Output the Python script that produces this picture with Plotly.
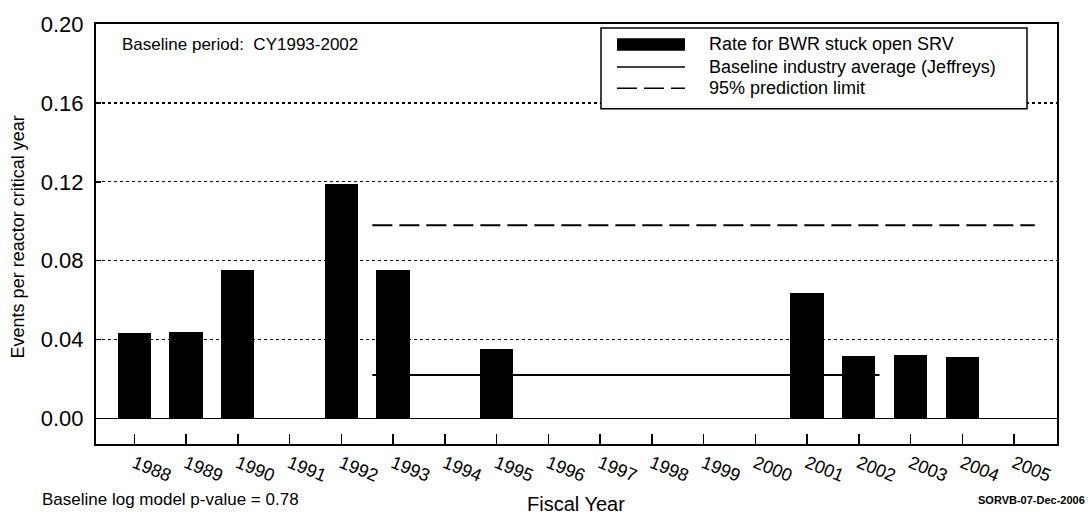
import plotly.graph_objects as go

# ---- data ----
years = [1988, 1989, 1990, 1991, 1992, 1993, 1994, 1995, 1996, 1997,
         1998, 1999, 2000, 2001, 2002, 2003, 2004, 2005]
rates = [0.0432, 0.0440, 0.0755, 0.0, 0.1187, 0.0752, 0.0, 0.0351, 0.0, 0.0,
         0.0, 0.0, 0.0, 0.0635, 0.0315, 0.0320, 0.0310, 0.0]
baseline_x = [1992.6, 2002.4]
baseline_y = [0.022, 0.022]
limit_x = [1992.6, 2005.4]
limit_y = [0.098, 0.098]
ytick_vals = [0.00, 0.04, 0.08, 0.12, 0.16, 0.20]
ytick_text = ["0.00", "0.04", "0.08", "0.12", "0.16", "0.20"]
xtick_text = [str(y) for y in years]
legend_labels = ["Rate for BWR stuck open SRV",
                 "Baseline industry average (Jeffreys)",
                 "95% prediction limit"]

# ---- layout geometry (page pixels) ----
W, H = 1092, 522
L, R, T, B = 96, 1057, 13, 444
FONT = "Liberation Sans, Arial, sans-serif"


def px(x):
    return (x - L) / (R - L)


def py(y):
    return (B - y) / (B - T)


fig = go.Figure()
fig.add_trace(go.Scatter(x=baseline_x, y=baseline_y, mode="lines",
                         line=dict(color="black", width=2),
                         showlegend=False, hoverinfo="skip"))
fig.add_trace(go.Scatter(x=limit_x, y=limit_y, mode="lines",
                         line=dict(color="black", width=2, dash="20px,7px"),
                         showlegend=False, hoverinfo="skip"))
fig.add_trace(go.Bar(x=years, y=rates, width=0.64,
                     marker=dict(color="black", line=dict(width=0)),
                     showlegend=False))

shapes = []
annotations = []

# custom legend box
shapes.append(dict(type="rect", xref="paper", yref="paper",
                   x0=px(601), x1=px(1027), y0=py(100), y1=py(17),
                   fillcolor="white", line=dict(color="black", width=1.5),
                   layer="above"))
rows = [34, 57, 79]
shapes.append(dict(type="rect", xref="paper", yref="paper",
                   x0=px(617), x1=px(685), y0=py(rows[0] + 6.5), y1=py(rows[0] - 6.5),
                   fillcolor="black", line=dict(width=0), layer="above"))
shapes.append(dict(type="line", xref="paper", yref="paper",
                   x0=px(617), x1=px(685), y0=py(rows[1]), y1=py(rows[1]),
                   line=dict(color="black", width=1.5), layer="above"))
shapes.append(dict(type="line", xref="paper", yref="paper",
                   x0=px(617), x1=px(685), y0=py(rows[2]), y1=py(rows[2]),
                   line=dict(color="black", width=1.5, dash="20px,7px"), layer="above"))
for lab, r in zip(legend_labels, rows):
    annotations.append(dict(text=lab, xref="paper", yref="paper",
                            x=px(707), y=py(r), xanchor="left", yanchor="middle",
                            showarrow=False, font=dict(size=18, color="black", family=FONT)))

annotations.append(dict(text="Baseline period:  CY1993-2002", xref="paper", yref="paper",
                        x=px(120), y=py(34), xanchor="left", yanchor="middle",
                        showarrow=False, font=dict(size=17, color="black", family=FONT)))
annotations.append(dict(text="Events per reactor critical year", xref="paper", yref="paper",
                        x=px(18), y=py(232), xanchor="center", yanchor="middle",
                        textangle=-90, showarrow=False,
                        font=dict(size=18, color="black", family=FONT)))
annotations.append(dict(text="Fiscal Year", xref="paper", yref="paper",
                        x=px(576), y=py(506), xanchor="center", yanchor="middle",
                        showarrow=False, font=dict(size=20, color="black", family=FONT)))
annotations.append(dict(text="Baseline log model p-value = 0.78", xref="paper", yref="paper",
                        x=px(40), y=py(501), xanchor="left", yanchor="middle",
                        showarrow=False, font=dict(size=17, color="black", family=FONT)))
annotations.append(dict(text="<b>SORVB-07-Dec-2006</b>", xref="paper", yref="paper",
                        x=px(1087), y=py(501), xanchor="right", yanchor="middle",
                        showarrow=False, font=dict(size=11, color="black", family=FONT)))

fig.update_layout(
    width=W, height=H,
    margin=dict(l=L, r=W - R, t=T, b=H - B, pad=0),
    paper_bgcolor="white", plot_bgcolor="white",
    font=dict(family=FONT, color="black"),
    shapes=shapes, annotations=annotations,
    showlegend=False, bargap=0, hovermode=False,
    xaxis=dict(range=[1987.26, 2005.83], tickmode="array", tickvals=years,
               ticktext=xtick_text, tickangle=22, tickfont=dict(size=18),
               ticks="inside", ticklen=10, tickwidth=1.5, tickcolor="black",
               showline=True, mirror=True, linecolor="black", linewidth=2,
               showgrid=False, zeroline=False, fixedrange=True),
    yaxis=dict(range=[-0.013, 0.2001], tickmode="array", tickvals=ytick_vals,
               ticktext=ytick_text, tickfont=dict(size=22),
               ticks="inside", ticklen=5, tickwidth=1.5, tickcolor="black",
               showline=True, mirror=True, linecolor="black", linewidth=2,
               showgrid=True, gridcolor="black", gridwidth=1.2, griddash="dot",
               zeroline=True, zerolinecolor="black", zerolinewidth=1.5,
               ticklabelstandoff=6, ticklabeloverflow="allow", fixedrange=True),
)

fig.write_html("out.html", config={"displayModeBar": False, "staticPlot": True},
               post_script="document.body.style.margin='0px';document.body.style.overflow='hidden';")
